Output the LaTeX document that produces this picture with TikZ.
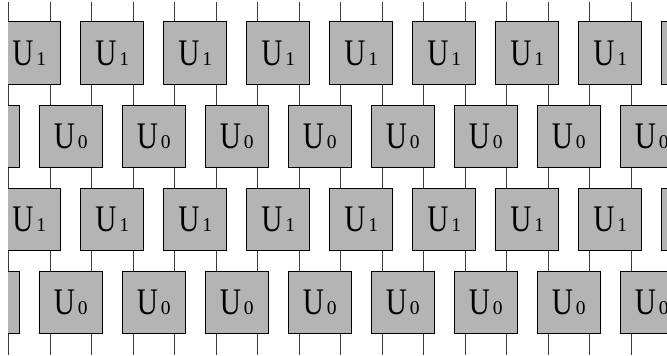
\documentclass[tikz,border=0pt]{standalone}
\usepackage{fontspec}
\setmainfont{Liberation Serif}
\usepackage{graphicx}
\definecolor{boxgray}{RGB}{180,180,180}
\definecolor{wiregray}{RGB}{60,60,60}
\newcommand{\gatelabel}[1]{\scalebox{0.78}[1]{\fontsize{37.5}{37.5}\selectfont U}\hspace{3pt}{\fontsize{19.5}{19.5}\selectfont #1}}
\tikzset{
  gate/.style={draw=black, line width=0.9pt, fill=boxgray, minimum width=63pt, minimum height=62.5pt, inner sep=0pt, anchor=center},
  wire/.style={draw=wiregray, line width=0.9pt}
}
\begin{document}
\begin{tikzpicture}[x=1pt,y=1pt]
\useasboundingbox (0,0) rectangle (667,-356);
\begin{scope}
\clip (8,-2) rectangle (667,-354.5);
% rows of gates
\foreach \k in {0,...,8} {
  \node[gate] (a\k) at ({29.25+83*\k},-53) {\gatelabel{1}};
  \node[gate] (b\k) at ({-12.25+83*\k},-136.5) {\gatelabel{0}};
  \node[gate] (c\k) at ({29.25+83*\k},-219.5) {\gatelabel{1}};
  \node[gate] (d\k) at ({-12.25+83*\k},-302.5) {\gatelabel{0}};
}
% top and bottom open wires
\foreach \k in {0,...,8} {
  \coordinate (tl\k) at ([xshift=-20.75pt]a\k.north |- 0,0);
  \coordinate (tr\k) at ([xshift=20.75pt]a\k.north |- 0,0);
  \draw[wire] ([xshift=-20.75pt]a\k.north) -- (tl\k);
  \draw[wire] ([xshift=20.75pt]a\k.north) -- (tr\k);
  \coordinate (bl\k) at ([xshift=-20.75pt]d\k.south |- 0,-356);
  \coordinate (br\k) at ([xshift=20.75pt]d\k.south |- 0,-356);
  \draw[wire] ([xshift=-20.75pt]d\k.south) -- (bl\k);
  \draw[wire] ([xshift=20.75pt]d\k.south) -- (br\k);
}
% connections between rows
\foreach \k in {0,...,8} {
  \draw[wire] ([xshift=-20.75pt]a\k.south) -- ([xshift=20.75pt]b\k.north);
  \draw[wire] ([xshift=20.75pt]b\k.south) -- ([xshift=-20.75pt]c\k.north);
  \draw[wire] ([xshift=-20.75pt]c\k.south) -- ([xshift=20.75pt]d\k.north);
}
\foreach \k [evaluate=\k as \n using int(\k+1)] in {0,...,7} {
  \draw[wire] ([xshift=20.75pt]a\k.south) -- ([xshift=-20.75pt]b\n.north);
  \draw[wire] ([xshift=-20.75pt]b\n.south) -- ([xshift=20.75pt]c\k.north);
  \draw[wire] ([xshift=20.75pt]c\k.south) -- ([xshift=-20.75pt]d\n.north);
}
\end{scope}
\end{tikzpicture}
\end{document}
